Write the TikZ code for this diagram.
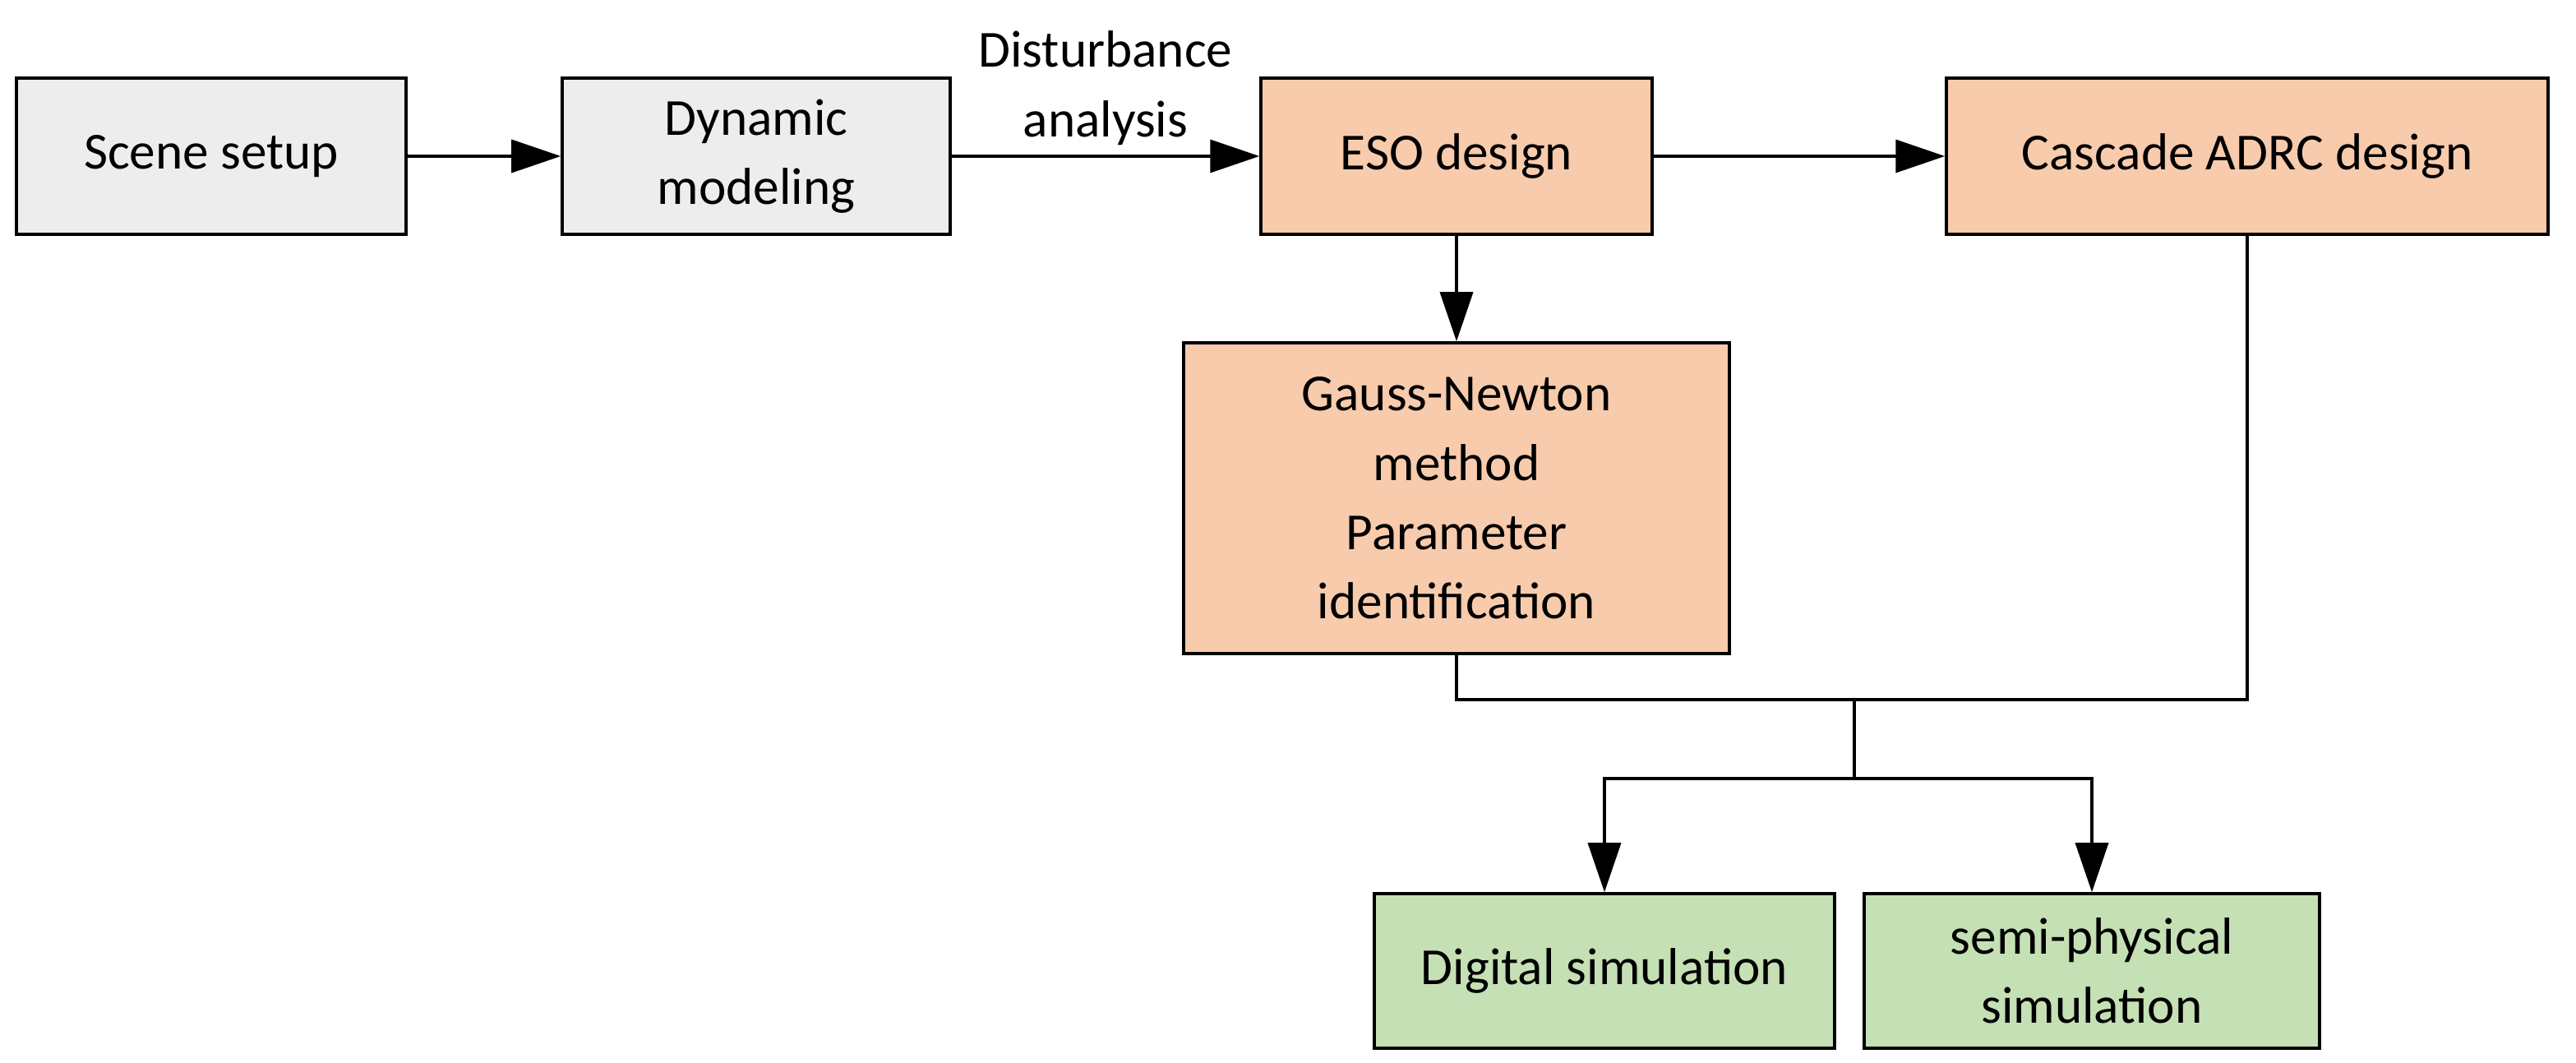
\documentclass[tikz,border=0pt]{standalone}
\usepackage{fontspec}
\setmainfont{Carlito}
\usetikzlibrary{arrows.meta, positioning}

\definecolor{greybox}{HTML}{EDEDED}
\definecolor{orangebox}{HTML}{F8CBAD}
\definecolor{greenbox}{HTML}{C5E0B4}

\begin{document}
\begin{tikzpicture}[
    font=\fontsize{18}{24}\selectfont,
    box/.style={
        rectangle,
        draw,
        line width=1pt,
        minimum height=1.9cm,
        inner sep=2pt,
        align=center
    },
    arr/.style={-{Triangle[length=0.6cm, width=0.4cm]}, line width=1pt},
    line/.style={line width=1pt}
]
  \useasboundingbox (0,0) rectangle (31.34,12.93);

  \node[box, fill=greybox, minimum width=4.74cm] (scene) at (2.57,11.03) {Scene setup};
  \node[box, fill=greybox, minimum width=4.72cm] (dynamic) at (9.2,11.03) {Dynamic\\modeling};
  \node[box, fill=orangebox, minimum width=4.76cm] (eso) at (17.72,11.03) {ESO design};
  \node[box, fill=orangebox, minimum width=7.32cm] (adrc) at (27.34,11.03) {Cascade ADRC design};
  \node[box, fill=orangebox, minimum width=6.64cm, minimum height=3.78cm] (gauss) at (17.72,6.87)
    {Gauss-Newton\\method\\Parameter\\identification};
  \node[box, fill=greenbox, minimum width=5.6cm, minimum height=1.88cm] (digital) at (19.52,1.12) {Digital simulation};
  \node[box, fill=greenbox, minimum width=5.54cm, minimum height=1.88cm] (semi) at (25.45,1.12) {semi-physical\\simulation};

  \coordinate (join) at (22.56,4.42);
  \coordinate (split) at (22.56,3.46);

  \draw[arr] (scene) -- (dynamic);
  \draw[arr] (dynamic) -- node[above, align=center] {Disturbance\\analysis} (eso);
  \draw[arr] (eso) -- (adrc);
  \draw[arr] (eso) -- (gauss);

  \draw[line] (gauss.south) |- (join) -| (adrc.south);
  \draw[line] (join) -- (split);
  \draw[arr] (split) -| (digital.north);
  \draw[arr] (split) -| (semi.north);
\end{tikzpicture}
\end{document}
